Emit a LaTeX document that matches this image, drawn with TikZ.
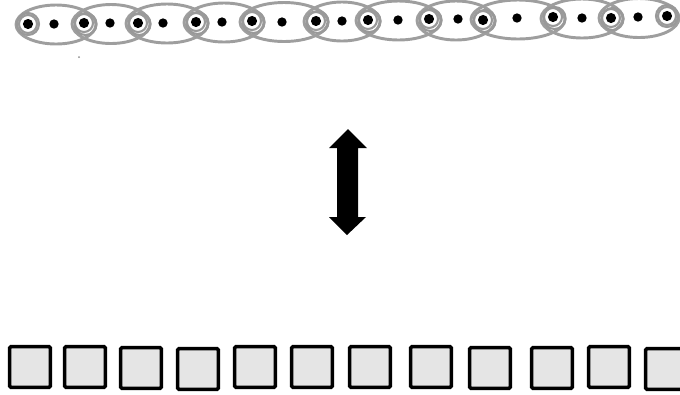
\documentclass[tikz,border=0pt]{standalone}
\usetikzlibrary{shapes.geometric}
\begin{document}
\begin{tikzpicture}[x=0.75pt,y=-0.75pt,
  ell/.style={draw=black!38,line width=2.2pt},
  ring/.style={draw=black!40,line width=1.6pt},
  dot/.style={circle,fill=black,inner sep=0pt,minimum size=7.6pt},
  sq/.style={draw=black,line width=2.7pt,fill=black!10,inner sep=0pt,minimum size=30.5pt,rounded corners=1pt}]
\useasboundingbox (0,0) rectangle (680,394);
\clip (0,0) rectangle (680,394);
% ringed points
\def\rx{{28,84,138,196,252,316,368,429,483,553,611,667}}
\def\ry{{24,23,23,22,21,21,20,19,20,17,18,16}}
\foreach \i in {0,...,10}{
  \pgfmathsetmacro{\xa}{\rx[\i]}
  \pgfmathsetmacro{\xb}{\rx[\i+1]}
  \pgfmathsetmacro{\ya}{\ry[\i]}
  \pgfmathsetmacro{\yb}{\ry[\i+1]}
  \pgfmathsetmacro{\cx}{(\xa+\xb)/2}
  \pgfmathsetmacro{\cy}{(\ya+\yb)/2+1}
  \pgfmathsetmacro{\hw}{(\xb-\xa)/2+12}
  \draw[ell] (\cx,\cy) ellipse [x radius=\hw, y radius=19.5];
}
\foreach \x/\y [count=\k] in {28/24,84/23,138/23,196/22,252/21,316/21,368/20,429/19,483/20,553/17,611/18,667/16}{
  \draw[ring] (\x,\y) circle [radius=9];
  \ifnum\k>1 \ifnum\k<12 \draw[ring] (\x+1.5,\y+1) circle [radius=11]; \fi\fi
  \ifnum\k=1 \draw[ring] (\x,\y) circle [radius=11]; \fi
  \ifnum\k=12 \draw[ring] (\x,\y) circle [radius=11]; \fi
  \node[dot] (r\k) at (\x,\y) {};
}
\foreach \x/\y [count=\k] in {54/24,110/23,163/23,222/22,282/22,342/21,398/20,458/19,517/18,582/18,638/17}{
  \node[dot,minimum size=7pt] (p\k) at (\x,\y) {};
}
\fill[black!45] (79,57) circle [radius=1];
% double arrow
\fill[black] (348,129) -- (367,148) -- (358,148) -- (358,217) -- (366,217) -- (347,235)
  -- (329,217) -- (337,217) -- (337,148) -- (329,148) -- cycle;
\node (arr) at (347,182) {};
% squares
\foreach \x/\y [count=\k] in {8/345,63/345,119/346,176/347,233/345,290/345,348/345,409/345,468/346,530/346,587/345,644/347}{
  \node[sq] (s\k) at (\x+22,\y+22) {};
}
\end{tikzpicture}
\end{document}
